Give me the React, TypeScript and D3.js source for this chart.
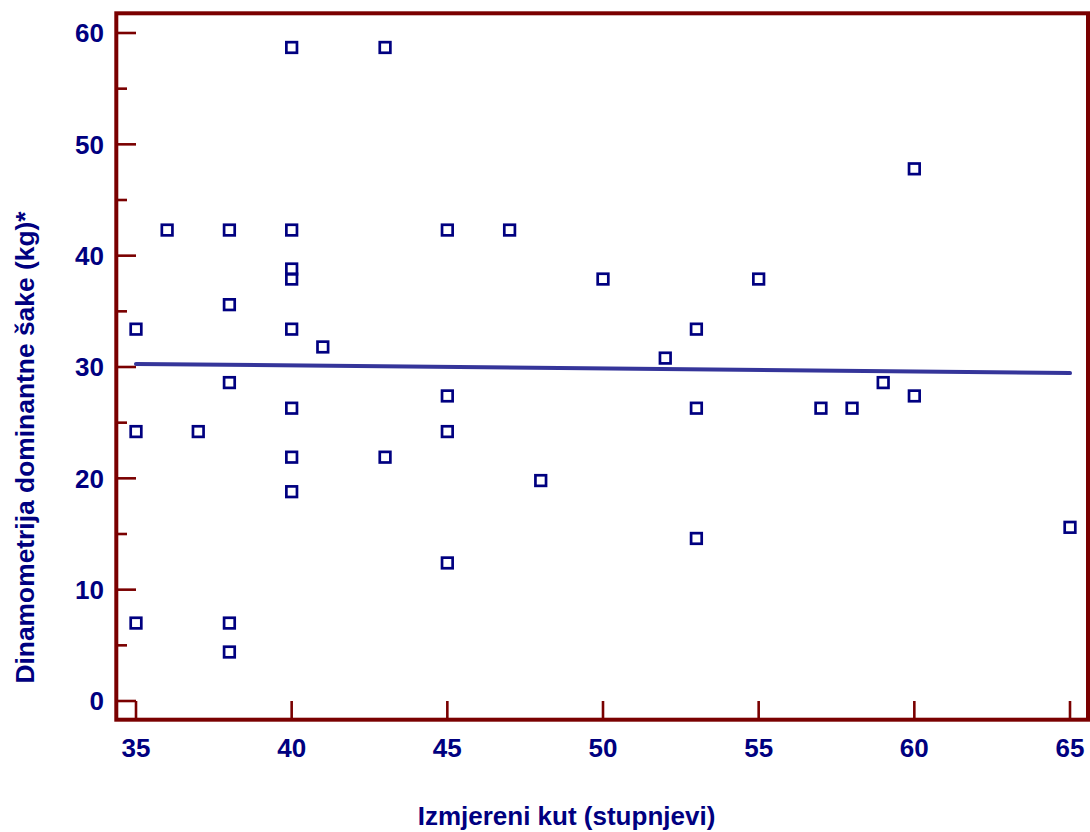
import React from "react";
import * as d3 from "d3";

const angleX: number[] = [40, 43, 60, 36, 38, 40, 45, 47, 40, 40, 50, 55, 38, 35, 40, 53, 41, 52, 38, 59, 45, 60, 40, 53, 57, 58, 35, 37, 45, 40, 43, 48, 40, 65, 53, 45, 35, 38, 38];
const gripY: number[] = [58.7, 58.7, 47.8, 42.3, 42.3, 42.3, 42.3, 42.3, 38.8, 37.9, 37.9, 37.9, 35.6, 33.4, 33.4, 33.4, 31.8, 30.8, 28.6, 28.6, 27.4, 27.4, 26.3, 26.3, 26.3, 26.3, 24.2, 24.2, 24.2, 21.9, 21.9, 19.8, 18.8, 15.6, 14.6, 12.4, 7.0, 7.0, 4.4];
const regX: number[] = [35, 65];
const regY: number[] = [30.28, 29.45];
const xTicks: number[] = [35, 40, 45, 50, 55, 60, 65];
const yTicks: number[] = [0, 10, 20, 30, 40, 50, 60];
const yMinorTicks: number[] = [5, 15, 25, 35, 45, 55];
const xTitle = "Izmjereni kut (stupnjevi)";
const yTitle = "Dinamometrija dominantne šake (kg)*";

const W = 1090;
const H = 832;
const frame = { left: 116.3, right: 1088, top: 13.3, bottom: 719.7 };
const FRAME = "#7a0000";
const NAVY = "#000080";
const LINE = "#35359a";
const FONT = "'Liberation Sans', Arial, sans-serif";

export default function App() {
  const x = d3.scaleLinear().domain([35, 65]).range([136, 1070]);
  const y = d3.scaleLinear().domain([0, 60]).range([701, 33]);
  const pts = angleX.map((a, i) => [a, gripY[i]] as [number, number]);
  const reg = d3
    .line<number>()
    .x((d) => x(d))
    .y((_, i) => y(regY[i]))(regX) as string;
  const s = 10.6;
  return (
    <svg
      width={W}
      height={H}
      style={{ position: "absolute", left: 0, top: 0, background: "#fff" }}
    >
      {yTicks.map((t) => (
        <line key={"yt" + t} x1={frame.left} x2={136} y1={y(t)} y2={y(t)} stroke={FRAME} strokeWidth={2.6} />
      ))}
      {yMinorTicks.map((t) => (
        <line key={"ym" + t} x1={frame.left} x2={127} y1={y(t)} y2={y(t)} stroke={FRAME} strokeWidth={2.6} />
      ))}
      {xTicks.map((t) => (
        <line key={"xt" + t} x1={x(t)} x2={x(t)} y1={frame.bottom} y2={701} stroke={FRAME} strokeWidth={2.6} />
      ))}
      <rect
        x={frame.left}
        y={frame.top}
        width={frame.right - frame.left}
        height={frame.bottom - frame.top}
        fill="none"
        stroke={FRAME}
        strokeWidth={4}
      />
      <path d={reg} fill="none" stroke={LINE} strokeWidth={4} strokeLinecap="round" />
      {pts.map(([a, g], i) => (
        <rect
          key={"p" + i}
          x={x(a) - s / 2}
          y={y(g) - s / 2}
          width={s}
          height={s}
          fill="none"
          stroke={NAVY}
          strokeWidth={2.7}
        />
      ))}
      {yTicks.map((t) => (
        <text
          key={"yl" + t}
          x={104}
          y={y(t) + 9.3}
          textAnchor="end"
          fontFamily={FONT}
          fontWeight="bold"
          fontSize={26}
          fill={NAVY}
        >
          {t}
        </text>
      ))}
      {xTicks.map((t) => (
        <text
          key={"xl" + t}
          x={x(t)}
          y={757}
          textAnchor="middle"
          fontFamily={FONT}
          fontWeight="bold"
          fontSize={26}
          fill={NAVY}
        >
          {t}
        </text>
      ))}
      <text
        x={566.5}
        y={825}
        textAnchor="middle"
        fontFamily={FONT}
        fontWeight="bold"
        fontSize={26}
        fill={NAVY}
      >
        {xTitle}
      </text>
      <text
        transform="translate(34,447.5) rotate(-90)"
        textAnchor="middle"
        fontFamily={FONT}
        fontWeight="bold"
        fontSize={26.4}
        fill={NAVY}
      >
        {yTitle}
      </text>
    </svg>
  );
}
